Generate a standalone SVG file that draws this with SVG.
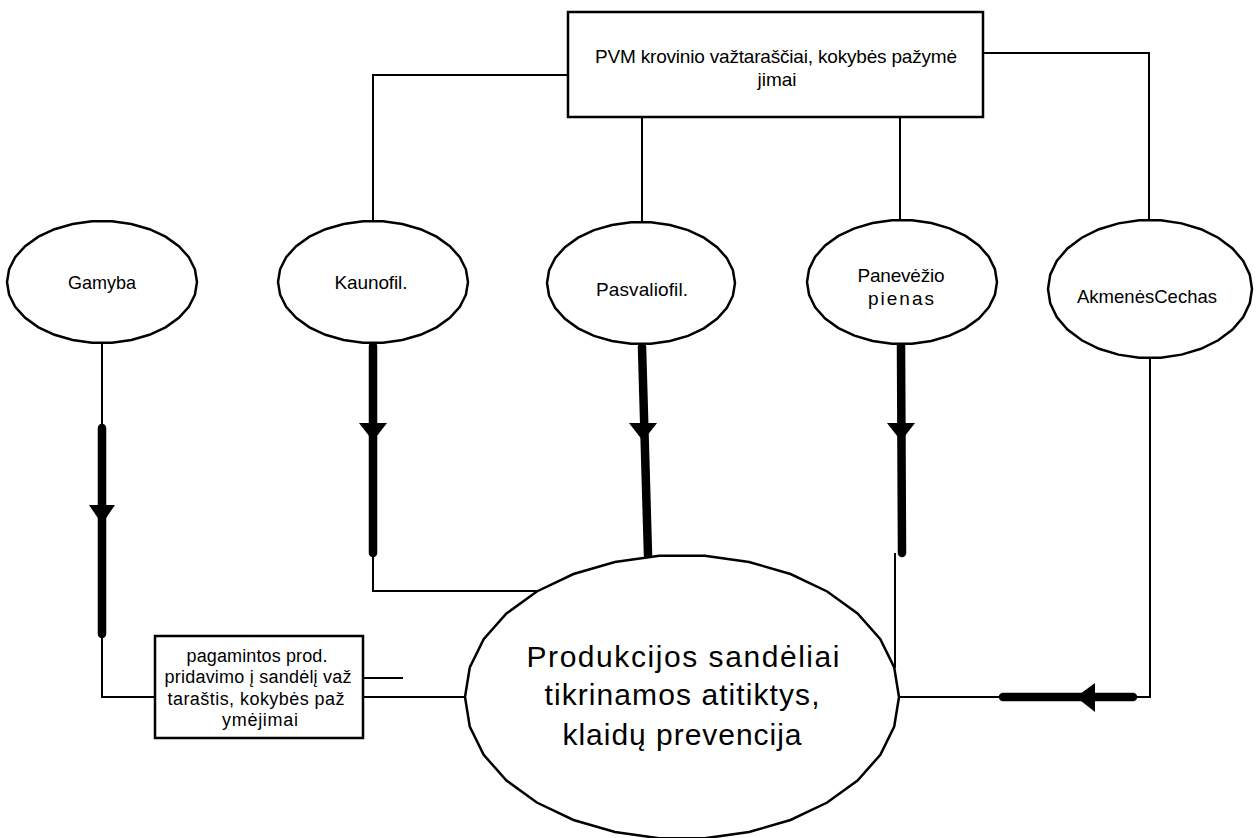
<svg xmlns="http://www.w3.org/2000/svg" width="1260" height="838" viewBox="0 0 1260 838">
  <defs>
    <style>
      .bg { fill: #ffffff; }
      .box { fill: #ffffff; stroke: #000000; stroke-width: 2.5; }
      .oval { fill: #ffffff; stroke: #000000; stroke-width: 2.5; stroke-linejoin: miter; vector-effect: non-scaling-stroke; }
      .thin { fill: none; stroke: #000000; stroke-width: 2; }
      .thick { fill: none; stroke: #000000; stroke-width: 8.5; stroke-linecap: round; }
      .head { fill: #000000; stroke: none; }
      .lbl { font-family: "Liberation Sans", Arial, sans-serif; font-size: 19px; fill: #000000; text-anchor: middle; }
      .small { font-family: "Liberation Sans", Arial, sans-serif; font-size: 18px; fill: #000000; text-anchor: middle; }
      .big { font-family: "Liberation Sans", Arial, sans-serif; font-size: 30px; fill: #000000; text-anchor: middle; }
    </style>
    <!-- 30-sided outline of radius 100 (flat top and bottom, pointed sides); scaled per node -->
    <polygon id="facet-oval" class="oval" points="100,0 97.8,20.8 91.4,40.7 80.9,58.8 66.9,74.3 50,86.6 30.9,95.1 10.5,99.5 -10.5,99.5 -30.9,95.1 -50,86.6 -66.9,74.3 -80.9,58.8 -91.4,40.7 -97.8,20.8 -100,0 -97.8,-20.8 -91.4,-40.7 -80.9,-58.8 -66.9,-74.3 -50,-86.6 -30.9,-95.1 -10.5,-99.5 10.5,-99.5 30.9,-95.1 50,-86.6 66.9,-74.3 80.9,-58.8 91.4,-40.7 97.8,-20.8"/>
  </defs>

  <rect class="bg" x="0" y="0" width="1260" height="838"/>

  <!-- connectors -->
  <g id="connectors">
    <!-- document box to the branches -->
    <polyline class="thin" points="568,75 373,75 373,221"/>
    <line class="thin" x1="642" y1="117" x2="642" y2="222"/>
    <line class="thin" x1="900" y1="117" x2="900" y2="220"/>
    <polyline class="thin" points="983,53 1149,53 1149,220"/>

    <!-- Gamyba to the delivery note box -->
    <line class="thin" x1="102" y1="343" x2="102" y2="428"/>
    <line class="thick" x1="102" y1="428" x2="102" y2="634"/>
    <polygon class="head" points="89,505 115,505 102,524"/>
    <polyline class="thin" points="102,634 102,697 155,697"/>

    <!-- delivery note box to the warehouse -->
    <line class="thin" x1="363" y1="678" x2="403" y2="678"/>
    <line class="thin" x1="363" y1="697" x2="466" y2="697"/>

    <!-- Kaunas branch -->
    <line class="thick" x1="373" y1="346" x2="373" y2="553"/>
    <polygon class="head" points="359,423 387,423 373,441"/>
    <polyline class="thin" points="373,553 373,591 539,591"/>

    <!-- Pasvalys branch -->
    <line class="thick" x1="642" y1="347" x2="648" y2="555"/>
    <polygon class="head" points="629,423 657,423 643,441"/>

    <!-- Panevezys branch -->
    <line class="thick" x1="901" y1="345" x2="902" y2="553"/>
    <polygon class="head" points="887,423 915,423 901,441"/>
    <line class="thin" x1="895" y1="553" x2="895" y2="668"/>

    <!-- Akmene branch -->
    <polyline class="thin" points="1150,358 1150,697 1133,697"/>
    <line class="thick" x1="1133" y1="697" x2="1003" y2="697"/>
    <polygon class="head" points="1095,683 1095,712 1076,697"/>
    <line class="thin" x1="1003" y1="697" x2="899" y2="697"/>
  </g>

  <!-- documents box -->
  <g id="node-documents">
    <rect class="box" x="568" y="12" width="415" height="105"/>
    <text class="lbl" x="776" y="63" textLength="362" lengthAdjust="spacing">PVM krovinio važtaraščiai, kokybės pažymė</text>
    <text class="lbl" x="777" y="86">jimai</text>
  </g>

  <g id="node-gamyba">
    <use href="#facet-oval" transform="translate(102,282) scale(0.95,0.61)"/>
    <text class="lbl" x="102" y="289" textLength="68" lengthAdjust="spacingAndGlyphs">Gamyba</text>
  </g>

  <g id="node-kaunas">
    <use href="#facet-oval" transform="translate(373,282) scale(0.95,0.61)"/>
    <text class="lbl" x="371" y="289" textLength="73" lengthAdjust="spacing">Kaunofil.</text>
  </g>

  <g id="node-pasvalys">
    <use href="#facet-oval" transform="translate(641,283) scale(0.94,0.61)"/>
    <text class="lbl" x="642" y="296" textLength="92" lengthAdjust="spacing">Pasvaliofil.</text>
  </g>

  <g id="node-panevezys">
    <use href="#facet-oval" transform="translate(902,282) scale(0.95,0.62)"/>
    <text class="lbl" x="901" y="282" textLength="87" lengthAdjust="spacing">Panevėžio</text>
    <text class="lbl" x="901" y="305" textLength="66" lengthAdjust="spacing">pienas</text>
  </g>

  <g id="node-akmene">
    <use href="#facet-oval" transform="translate(1150,289) scale(1.02,0.69)"/>
    <text class="lbl" x="1147" y="303" textLength="140" lengthAdjust="spacingAndGlyphs">AkmenėsCechas</text>
  </g>

  <g id="node-delivery-note">
    <rect class="box" x="155" y="636" width="208" height="102"/>
    <text class="small" x="257" y="662" textLength="141" lengthAdjust="spacing">pagamintos prod.</text>
    <text class="small" x="258" y="683" textLength="187" lengthAdjust="spacing">pridavimo į sandėlį važ</text>
    <text class="small" x="256" y="705" textLength="177" lengthAdjust="spacing">taraštis, kokybės paž</text>
    <text class="small" x="260" y="726" textLength="76" lengthAdjust="spacing">ymėjimai</text>
  </g>

  <g id="node-warehouse">
    <use href="#facet-oval" transform="translate(682,697) scale(2.17,1.42)"/>
    <text class="big" x="683" y="667" textLength="313" lengthAdjust="spacing">Produkcijos sandėliai</text>
    <text class="big" x="682" y="705" textLength="275" lengthAdjust="spacing">tikrinamos atitiktys,</text>
    <text class="big" x="682" y="745" textLength="239" lengthAdjust="spacing">klaidų prevencija</text>
  </g>
</svg>
